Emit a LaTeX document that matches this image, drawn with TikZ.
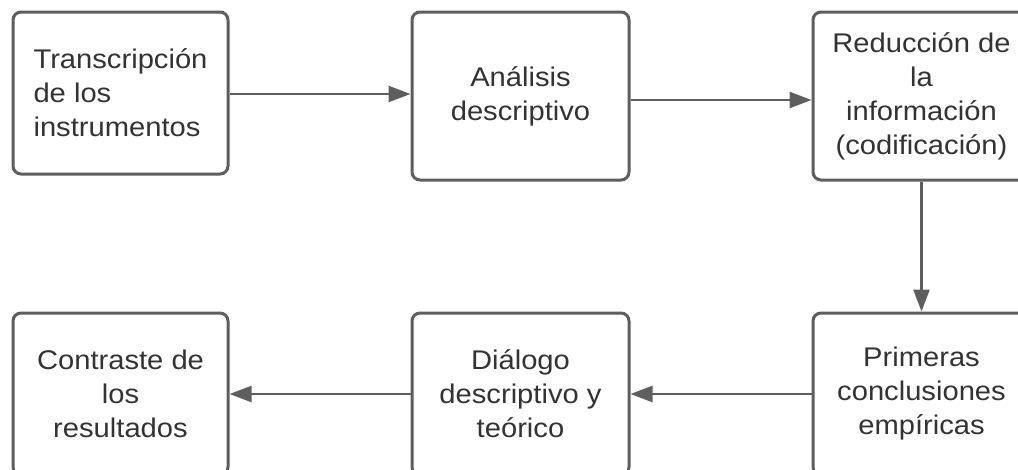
\documentclass[tikz,border=0pt]{standalone}
\usepackage{fontspec}
\setmainfont{Liberation Sans}[FakeStretch=1.08]
\usetikzlibrary{arrows.meta}
\definecolor{edgegray}{HTML}{5E5E5E}
\definecolor{textgray}{HTML}{333333}
\tikzset{
  stepbox/.style={draw=edgegray, line width=3pt, rounded corners=8pt, fill=white,
    minimum width=215pt, minimum height=162pt, inner sep=0pt, text=textgray,
    font=\fontsize{27}{34}\selectfont, align=center},
  flow/.style={draw=edgegray, line width=2.5pt, -{Triangle[length=22pt,width=16pt]}}
}
\begin{document}
\begin{tikzpicture}[x=1pt,y=-1pt]
\useasboundingbox (0,0) rectangle (1018,469);
\clip (0,0) rectangle (1018,469);
\fill[white] (0,0) rectangle (1018,469);
\node[stepbox, align=left] (b1) at (120.5,93) {Transcripción\\de los\\instrumentos};
\node[stepbox, minimum width=217pt, minimum height=168pt] (b2) at (520.5,96) {Análisis\\descriptivo};
\node[stepbox, minimum width=217pt, minimum height=168pt] (b3) at (921.5,96) {Reducción de\\la\\información\\(codificación)};
\node[stepbox, minimum width=217pt, minimum height=162pt] (b6) at (921.5,394) {Primeras\\conclusiones\\empíricas};
\node[stepbox, minimum width=217pt, minimum height=162pt] (b5) at (520.5,394) {Diálogo\\descriptivo y\\teórico};
\node[stepbox, minimum width=215pt, minimum height=162pt] (b4) at (120.5,394) {Contraste de\\los\\resultados};
\draw[flow] ([yshift=-1pt]b1.east) -- ([yshift=-1pt]b1.east -| b2.west);
\draw[flow] ([yshift=-4pt]b2.east) -- ([yshift=-4pt]b2.east -| b3.west);
\draw[flow] (b3.south) -- (b3.south |- b6.north);
\draw[flow] (b6.west) -- (b6.west -| b5.east);
\draw[flow] (b5.west) -- (b5.west -| b4.east);
\end{tikzpicture}
\end{document}
